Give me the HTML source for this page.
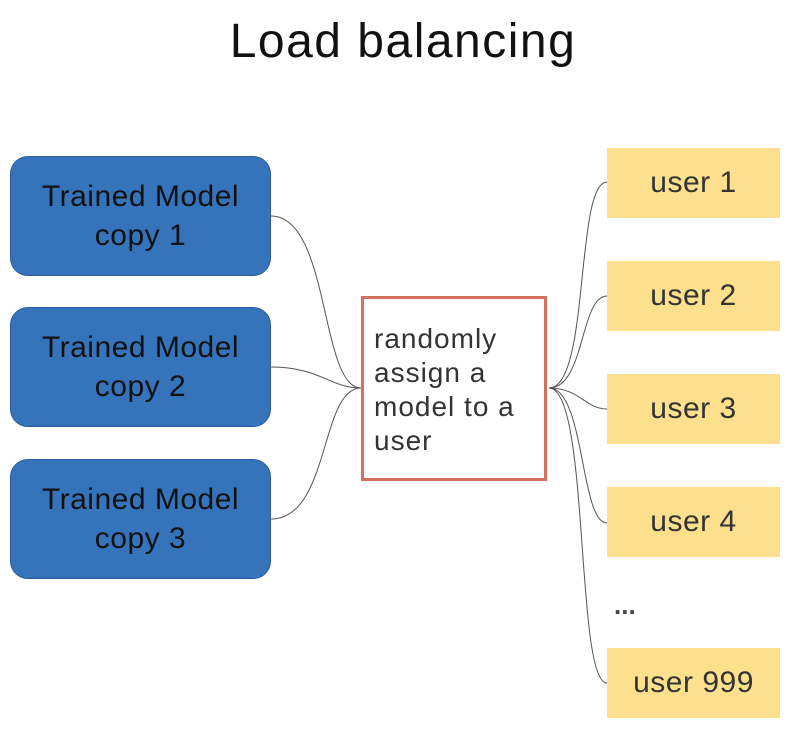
<!DOCTYPE html>
<html><head><style>
body{margin:0;width:794px;height:735px;background:#fff;position:relative;overflow:hidden;font-family:"Liberation Sans",sans-serif;color:#222}
.t{position:absolute;left:0;width:806px;top:14px;text-align:center;font-size:48px;letter-spacing:1.5px;color:#111}
.b{position:absolute;left:10px;width:261px;height:120px;background:#3574bb;border:1px solid #2a5d98;border-radius:18px;box-sizing:border-box;display:flex;align-items:center;justify-content:center;text-align:center;font-size:30px;letter-spacing:0.5px;line-height:39px;color:#111}
.u{position:absolute;left:607px;width:173px;height:70px;background:#fce08e;display:flex;align-items:center;justify-content:center;font-size:30px;letter-spacing:0.5px;color:#333}
.r{position:absolute;left:361px;top:296px;width:186px;height:185px;border:3px solid #d4705f;box-sizing:border-box;padding:23px 0 0 10px;font-size:28px;letter-spacing:1px;line-height:34px;color:#333;white-space:nowrap}
</style></head><body>
<div class="t">Load balancing</div>
<svg width="794" height="735" style="position:absolute;left:0;top:0" fill="none" stroke="#555" stroke-width="1">
<path d="M271 216 C330 216 320 388 361 388"/>
<path d="M271 367 C320 367 330 388 361 388"/>
<path d="M271 519 C330 519 320 388 361 388"/>
<path d="M549 388 C590 388 575 182 607 182"/>
<path d="M549 388 C585 388 580 296 607 296"/>
<path d="M549 388 C580 388 585 409 607 409"/>
<path d="M549 388 C585 388 580 523 607 523"/>
<path d="M549 388 C590 388 575 683 607 683"/>
</svg>
<div class="b" style="top:156px">Trained Model<br>copy 1</div>
<div class="b" style="top:307px">Trained Model<br>copy 2</div>
<div class="b" style="top:459px">Trained Model<br>copy 3</div>
<div class="r">randomly<br>assign a<br>model to a<br>user</div>
<div class="u" style="top:148px">user 1</div>
<div class="u" style="top:261px">user 2</div>
<div class="u" style="top:374px">user 3</div>
<div class="u" style="top:487px">user 4</div>
<div style="position:absolute;left:614px;top:590px;font-size:26px;font-weight:bold;color:#444">...</div>
<div class="u" style="top:648px">user 999</div>
</body></html>
